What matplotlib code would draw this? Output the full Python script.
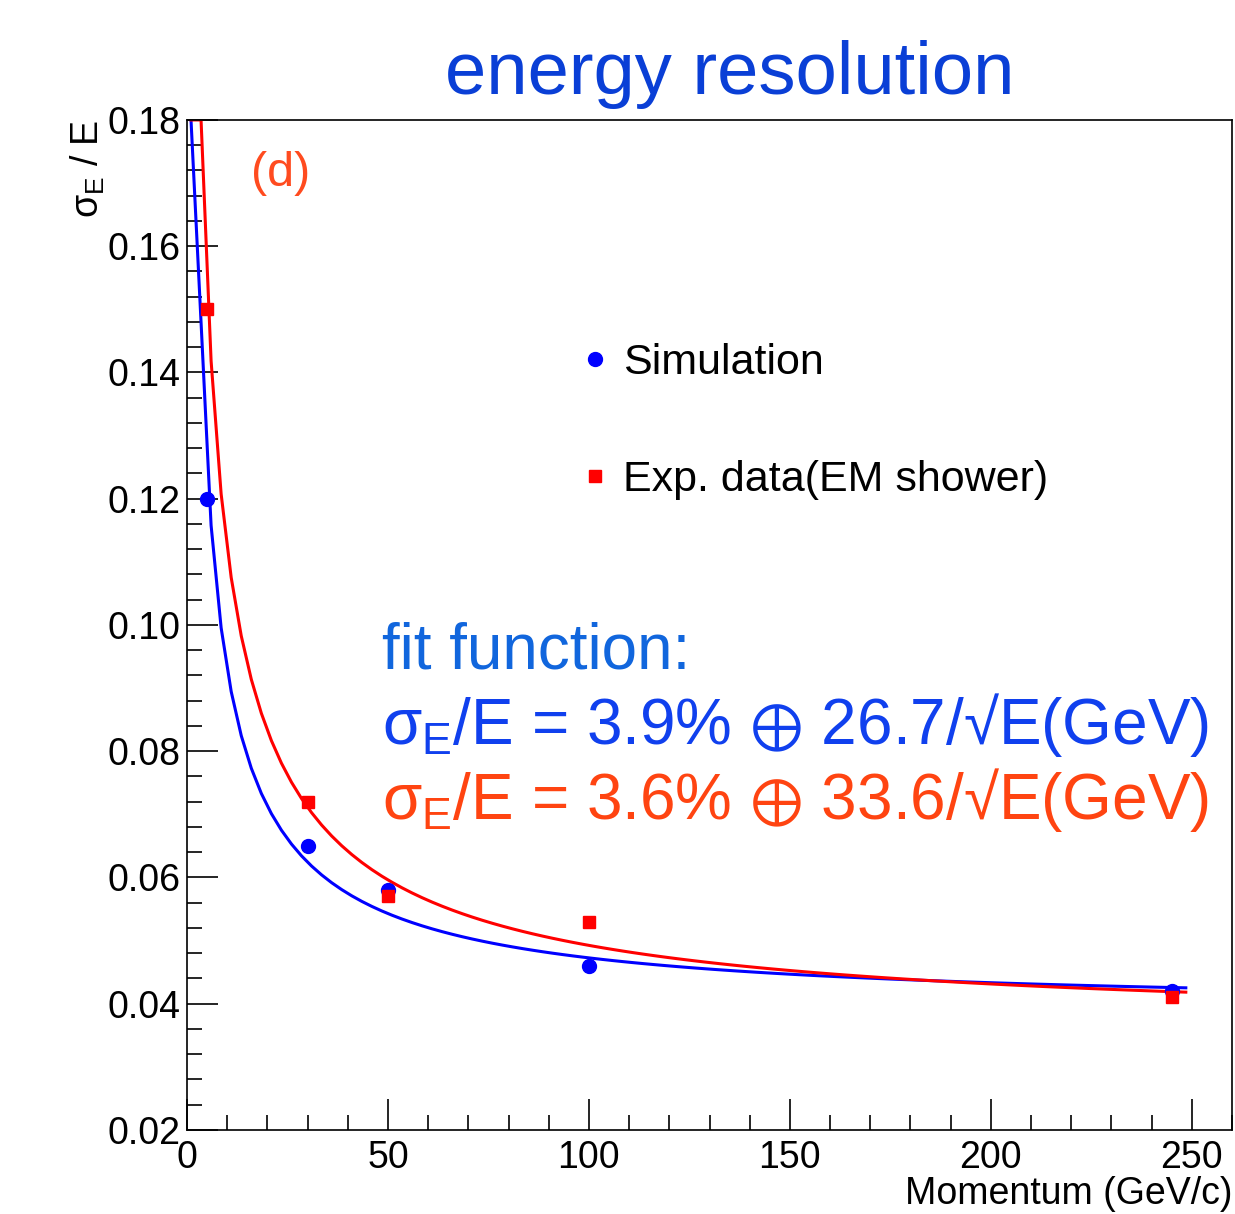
import numpy as np
import matplotlib
matplotlib.use("Agg")
import matplotlib.pyplot as plt
from matplotlib.ticker import MultipleLocator

plt.rcParams['font.family'] = ['Liberation Sans', 'DejaVu Sans']
plt.rcParams['mathtext.fontset'] = 'custom'
plt.rcParams['mathtext.rm'] = 'Liberation Sans'
plt.rcParams['mathtext.it'] = 'Liberation Sans'
plt.rcParams['mathtext.fallback'] = 'stixsans'

# data ---------------------------------------------------------------
momentum = [5, 30, 50, 100, 245]
sim_res = [0.120, 0.065, 0.058, 0.046, 0.042]
exp_res = [0.150, 0.072, 0.057, 0.053, 0.041]

# fit parameters: constant term, stochastic term (sigma/E = a (+) b/sqrt(E))
sim_fit = [0.039, 0.267]
exp_fit = [0.036, 0.336]
fit_range = [1.0, 248.5]

legend_labels = ["Simulation", "Exp. data(EM shower)"]
fit_lines = ["$\\sigma_{E}$/E = 3.9% $\\oplus$ 26.7/√E(GeV)",
             "$\\sigma_{E}$/E = 3.6% $\\oplus$ 33.6/√E(GeV)"]

blue = "#0000ff"
red = "#ff0000"
ymin, ymax = 0.02, 0.18

# figure -------------------------------------------------------------
fig = plt.figure(figsize=(12.35, 12.14), dpi=100)
ax = fig.add_axes([0.1514, 0.0692, 0.8462, 0.8320])

# fit curves, sampled like a ROOT TF1 (100 points, clamped at frame top)
e = np.linspace(fit_range[0], fit_range[1], 100)
sim_curve = np.minimum(np.sqrt(sim_fit[0]**2 + sim_fit[1]**2 / e), ymax)
exp_curve = np.minimum(np.sqrt(exp_fit[0]**2 + exp_fit[1]**2 / e), ymax)
ax.plot(e, sim_curve, color=blue, lw=2.2)
ax.plot(e, exp_curve, color=red, lw=2.2)

ax.plot(momentum, sim_res, 'o', color=blue, ms=10, zorder=3)
ax.plot(momentum, exp_res, 's', color=red, ms=8.5, zorder=3)

ax.set_xlim(0, 260)
ax.set_ylim(ymin, ymax)

ax.xaxis.set_major_locator(MultipleLocator(50))
ax.xaxis.set_minor_locator(MultipleLocator(10))
ax.yaxis.set_major_locator(MultipleLocator(0.02))
ax.yaxis.set_minor_locator(MultipleLocator(0.004))
ax.yaxis.set_major_formatter(plt.FuncFormatter(lambda v, p: "%.2f" % v))

ax.tick_params(which='both', direction='in', top=False, right=False,
               labelsize=27, width=1.2)
ax.tick_params(which='major', length=22)
ax.tick_params(which='minor', length=11)
ax.tick_params(axis='y', pad=5)
ax.tick_params(axis='x', pad=7)
for s in ax.spines.values():
    s.set_linewidth(1.2)

ax.set_xlabel("Momentum (GeV/c)", fontsize=27, loc='right', labelpad=0)
ax.set_ylabel("$\\sigma_{E}$ / E", fontsize=27, loc='top', labelpad=0)

# legend, done by hand like the ROOT one
ax.plot([101.5], [0.1421], 'o', color=blue, ms=10, clip_on=False)
ax.plot([101.5], [0.1236], 's', color=red, ms=8.5, clip_on=False)
ax.text(108.5, 0.1415, legend_labels[0], fontsize=31, va='center')
ax.text(108.5, 0.1230, legend_labels[1], fontsize=31, va='center')

ax.text(16, 0.1715, "(d)", fontsize=35, color="#ff4b1f", va='center')

ax.text(48.5, 0.0958, "fit function:", fontsize=46, color="#1166dd", va='center')
ax.text(48.5, 0.0841, fit_lines[0], fontsize=46, color="#1040ee", va='center')
ax.text(48.5, 0.0723, fit_lines[1], fontsize=46, color="#ff4411", va='center')

fig.text(0.591, 0.939, "energy resolution", fontsize=53.5, color="#0a3fd6",
         ha='center', va='center')

fig.savefig("out.png", dpi=100)
